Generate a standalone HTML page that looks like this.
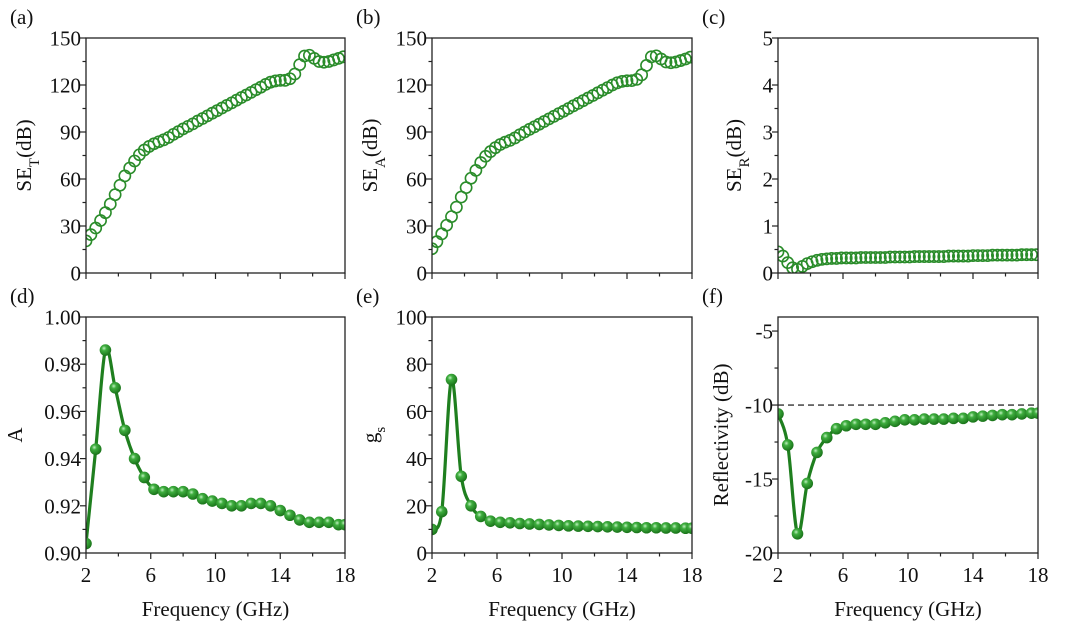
<!DOCTYPE html>
<html><head><meta charset="utf-8"><style>
html,body{margin:0;padding:0;background:#fff;}
svg{display:block;font-family:"Liberation Serif",serif;}
</style></head><body>
<svg id="fig" width="1080" height="629" viewBox="0 0 1080 629">
<defs>
<radialGradient id="ball" cx="0.38" cy="0.35" r="0.7">
<stop offset="0" stop-color="#bff0bf"/><stop offset="0.3" stop-color="#3fae3f"/><stop offset="1" stop-color="#166e16"/>
</radialGradient>
</defs>
</svg>
<script>
const fTop = [2.0,2.3,2.6,2.9,3.2,3.5,3.8,4.1,4.4,4.7,5.0,5.3,5.6,5.9,6.2,6.5,6.8,7.1,7.4,7.7,8.0,8.3,8.6,8.9,9.2,9.5,9.8,10.1,10.4,10.7,11.0,11.3,11.6,11.9,12.2,12.5,12.8,13.1,13.4,13.7,14.0,14.3,14.6,14.9,15.2,15.5,15.8,16.1,16.4,16.7,17.0,17.3,17.6,17.9];
const seT = [20.5,24.5,28.7,33.5,38.5,44,50,56,62,67,71.5,75.5,78.5,80.8,82.5,83.8,85,86.5,88.5,90.2,92,93.6,95.2,97,98.6,100.3,102,103.6,105.3,107,108.6,110.3,112,113.6,115.3,117,118.6,120.4,121.8,122.6,123,123,124,127,133,138.5,139,137,135,134.5,135,136,137,138];
const seA = [15.5,20,25,30.5,36,42,48.5,54.5,60.5,65.5,70.5,74.5,77.5,80,82,83.5,84.7,86.2,88.2,90,91.7,93.3,95,96.7,98.4,100,101.7,103.3,105,106.7,108.3,110,111.7,113.3,115,116.7,118.3,120,121.4,122.3,122.7,122.8,123.6,126.5,132.5,138,138.6,136.6,134.7,134.2,134.7,135.6,136.6,137.8];
const seR = [0.45,0.36,0.22,0.11,0.08,0.14,0.2,0.24,0.27,0.29,0.3,0.31,0.31,0.32,0.32,0.32,0.32,0.33,0.33,0.33,0.33,0.33,0.33,0.34,0.34,0.34,0.34,0.34,0.35,0.35,0.35,0.35,0.35,0.35,0.35,0.36,0.36,0.36,0.36,0.36,0.37,0.37,0.37,0.37,0.38,0.38,0.38,0.38,0.38,0.38,0.39,0.39,0.39,0.39];
const fBot = [2.0,2.6,3.2,3.8,4.4,5.0,5.6,6.2,6.8,7.4,8.0,8.6,9.2,9.8,10.4,11.0,11.6,12.2,12.8,13.4,14.0,14.6,15.2,15.8,16.4,17.0,17.6,18.0];
const absA = [0.904,0.944,0.986,0.970,0.952,0.940,0.932,0.927,0.926,0.926,0.926,0.925,0.923,0.922,0.921,0.920,0.920,0.921,0.921,0.920,0.918,0.916,0.914,0.913,0.913,0.913,0.912,0.912];
const gs = [10,17.5,73.5,32.5,20,15.5,13.5,13,12.8,12.5,12.3,12.1,11.9,11.7,11.5,11.4,11.3,11.2,11.1,11,10.9,10.8,10.7,10.7,10.6,10.6,10.5,10.5];
const refl = [-10.6,-12.7,-18.7,-15.3,-13.2,-12.2,-11.6,-11.4,-11.3,-11.3,-11.3,-11.2,-11.1,-11.0,-11.0,-10.95,-10.95,-10.95,-10.9,-10.9,-10.8,-10.75,-10.7,-10.65,-10.65,-10.6,-10.55,-10.55];
const xTicks = [2,6,10,14,18];

const svg = document.getElementById('fig');
const NS = 'http://www.w3.org/2000/svg';
function mk(tag, attrs, parent){const e=document.createElementNS(NS,tag);for(const k in attrs)e.setAttribute(k,attrs[k]);(parent||svg).appendChild(e);return e;}

function panel(o){
  const g = mk('g',{});
  
  
  const X = v => o.x0 + (v-2)/16*(o.x1-o.x0);
  const Y = v => o.y1 - (v-o.ymin)/(o.ymax-o.ymin)*(o.y1-o.y0);
  const lab = mk('text',{x:o.x0-76,y:o.y0-14,'font-size':21,fill:'#111'},g); lab.textContent=o.letter;
  
  
  for(let v=2; v<=18; v+=2){
    const major = xTicks.includes(v);
    mk('line',{x1:X(v),x2:X(v),y1:o.y1,y2:o.y1+(major?6:3.5),stroke:'#222','stroke-width':1.2},g);
    if(major && o.xlabels){const t=mk('text',{x:X(v),y:o.y1+29,'font-size':21,'text-anchor':'middle',fill:'#111'},g);t.textContent=v;
      
      }
  }
  for(let i=0;i<=o.nMaj*2;i++){
    const v=o.ymin+i*o.step/2; if(v>o.ymax+1e-9) break;
    const major=i%2===0;
    mk('line',{x1:o.x0-(major?6:3.5),x2:o.x0,y1:Y(v),y2:Y(v),stroke:'#222','stroke-width':1.2},g);
    if(major){const t=mk('text',{x:o.x0-5,y:Y(v)+7.5,'font-size':21,'text-anchor':'end',fill:'#111'},g);t.textContent=o.fmt(v);
      
      }
  }
  const yt=mk('text',{transform:`translate(${o.x0-o.ytoff},${(o.y0+o.y1)/2}) rotate(-90)`,'font-size':21,'text-anchor':'middle',fill:'#111'},g);
  yt.innerHTML=o.ytitle;
  
  
  if(o.xlabels){const xt=mk('text',{x:(o.x0+o.x1)/2,y:o.y1+63,'font-size':21,'text-anchor':'middle',fill:'#111'},g);xt.textContent='Frequency (GHz)';
    
    }
  if(o.dash!==undefined){const d=mk('line',{x1:o.x0,x2:o.x1,y1:Y(o.dash),y2:Y(o.dash),stroke:'#333','stroke-width':1.3,'stroke-dasharray':'6,4'},g);
    
    }
  const clip='c'+o.letter.replace(/\W/g,'');
  const cp=mk('clipPath',{id:clip},g); mk('rect',{x:o.x0,y:o.y0,width:o.x1-o.x0,height:o.y1-o.y0},cp);
  const dg=mk('g',{'clip-path':`url(#${clip})`},g);
  const pts=o.xs.map((x,i)=>[X(x),Y(o.ys[i])]);
  if(o.type==='ball'){
    let d=`M${pts[0][0]},${pts[0][1]}`;
    for(let i=0;i<pts.length-1;i++){
      const p0=pts[Math.max(0,i-1)],p1=pts[i],p2=pts[i+1],p3=pts[Math.min(pts.length-1,i+2)];
      d+=` C${p1[0]+(p2[0]-p0[0])/6},${p1[1]+(p2[1]-p0[1])/6} ${p2[0]-(p3[0]-p1[0])/6},${p2[1]-(p3[1]-p1[1])/6} ${p2[0]},${p2[1]}`;
    }
    const ln=mk('path',{d,fill:'none',stroke:'#1f7f1f','stroke-width':3.2},dg);
    
    
    pts.forEach(p=>{const c=mk('circle',{cx:p[0],cy:p[1],r:5.8,fill:'url(#ball)'},dg);
      
      });
  } else {
    pts.forEach(p=>{const c=mk('circle',{cx:p[0],cy:p[1],r:5.6,fill:'none',stroke:'#2a8c2a','stroke-width':1.6},dg);
      
      });
  }
  mk('rect',{x:o.x0,y:o.y0,width:o.x1-o.x0,height:o.y1-o.y0,fill:'none',stroke:'#222','stroke-width':1.3},g);
}
const cols=[[86,345],[432,692],[778,1038]];
const rowTop=[38,273], rowBot=[317,553];
panel({name:'panel-a-set',letter:'(a)',x0:cols[0][0],x1:cols[0][1],y0:rowTop[0],y1:rowTop[1],ymin:0,ymax:150,step:30,nMaj:5,fmt:v=>v,xs:fTop,ys:seT,type:'open',ytitle:'SE<tspan baseline-shift="sub" font-size="15">T</tspan>(dB)',ytoff:55});
panel({name:'panel-b-sea',letter:'(b)',x0:cols[1][0],x1:cols[1][1],y0:rowTop[0],y1:rowTop[1],ymin:0,ymax:150,step:30,nMaj:5,fmt:v=>v,xs:fTop,ys:seA,type:'open',ytitle:'SE<tspan baseline-shift="sub" font-size="15">A</tspan>(dB)',ytoff:55});
panel({name:'panel-c-ser',letter:'(c)',x0:cols[2][0],x1:cols[2][1],y0:rowTop[0],y1:rowTop[1],ymin:0,ymax:5,step:1,nMaj:5,fmt:v=>v,xs:fTop,ys:seR,type:'open',ytitle:'SE<tspan baseline-shift="sub" font-size="15">R</tspan>(dB)',ytoff:37});
panel({name:'panel-d-absorption',letter:'(d)',x0:cols[0][0],x1:cols[0][1],y0:rowBot[0],y1:rowBot[1],ymin:0.9,ymax:1.0,step:0.02,nMaj:5,fmt:v=>v.toFixed(2),xs:fBot,ys:absA,type:'ball',ytitle:'A',ytoff:64,xlabels:true});
panel({name:'panel-e-gs',letter:'(e)',x0:cols[1][0],x1:cols[1][1],y0:rowBot[0],y1:rowBot[1],ymin:0,ymax:100,step:20,nMaj:5,fmt:v=>Math.round(v),xs:fBot,ys:gs,type:'ball',ytitle:'g<tspan baseline-shift="sub" font-size="15">s</tspan>',ytoff:55,xlabels:true});
panel({name:'panel-f-reflectivity',letter:'(f)',x0:cols[2][0],x1:cols[2][1],y0:rowBot[0],y1:rowBot[1],ymin:-20,ymax:-4.05,step:5,nMaj:3,fmt:v=>Math.round(v),xs:fBot,ys:refl,type:'ball',ytitle:'Reflectivity (dB)',ytoff:50,xlabels:true,dash:-10});
</script>
</body></html>
